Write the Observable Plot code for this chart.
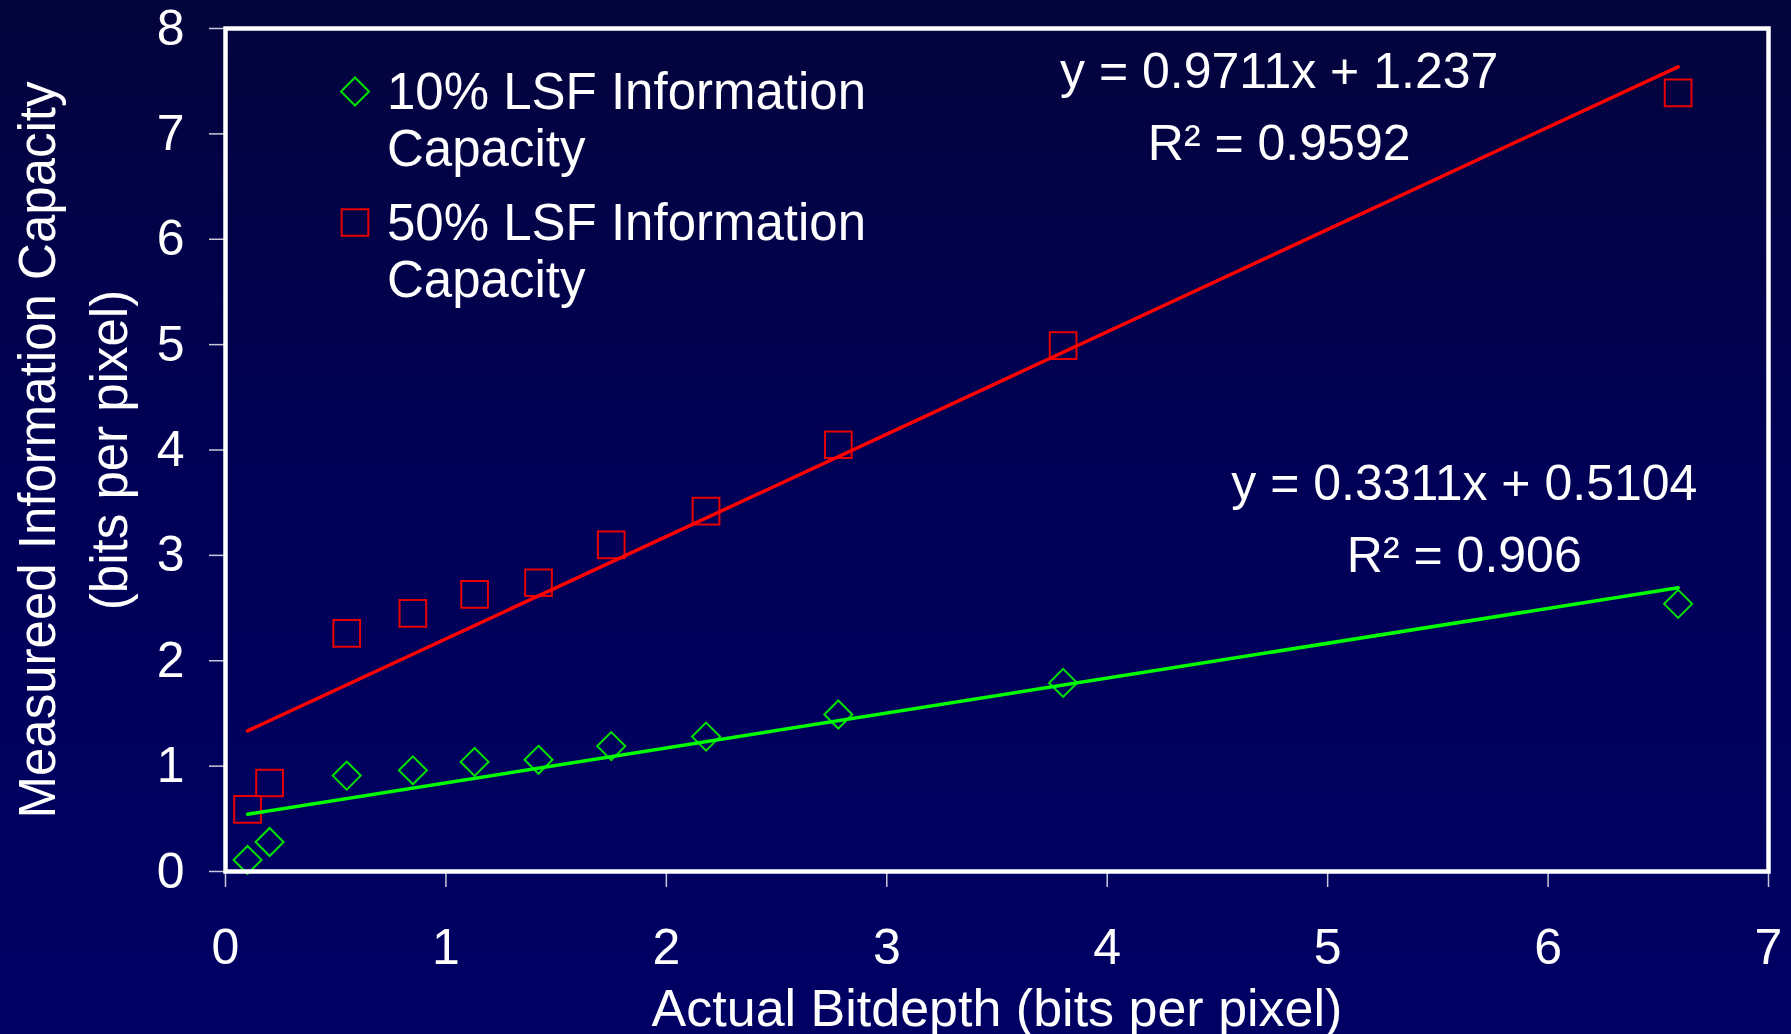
<!DOCTYPE html>
<html>
<head>
<meta charset="utf-8">
<script src="https://cdn.jsdelivr.net/npm/d3@7"></script>
<script src="https://cdn.jsdelivr.net/npm/@observablehq/plot@0.6"></script>
<style>
  html, body { margin: 0; padding: 0; }
  body {
    width: 1791px; height: 1034px; overflow: hidden;
    background: linear-gradient(to bottom, #04043c 0%, #000056 45%, #000064 100%);
    font-family: "Liberation Sans", Arial, sans-serif; color: #fff;
  }
  #wrap { position: relative; width: 1791px; height: 1034px; }
  #chart { position: absolute; left: 0; top: 0; }
  #legend { position: absolute; left: 338px; top: 63px; }
  .entry { display: flex; align-items: flex-start; }
  .entry + .entry { margin-top: 17px; }
  .sym { width: 34px; height: 57px; margin-right: 15px; flex: none; }
  .lbl { font-size: 51px; line-height: 57px; white-space: pre; }
</style>
</head>
<body>
<div id="wrap">
  <div id="chart"></div>
  <div id="legend"></div>
</div>
<script>
// ---- data ----
const bitdepth = [0.10, 0.20, 0.55, 0.85, 1.13, 1.42, 1.75, 2.18, 2.78, 3.80, 6.59];
const lsf10 = [0.11, 0.28, 0.91, 0.96, 1.04, 1.06, 1.19, 1.28, 1.49, 1.79, 2.54];
const lsf50 = [0.59, 0.84, 2.26, 2.45, 2.63, 2.74, 3.10, 3.42, 4.05, 4.99, 7.39];
const seriesNames = ["10% LSF Information\nCapacity", "50% LSF Information\nCapacity"];
const seriesColors = ["#00e400", "#e80000"];
const lineColors = ["#00ff00", "#ff0000"];
const seriesSymbols = ["diamond2", "square2"];
const fitSlopes = [0.3311, 0.9711];
const fitIntercepts = [0.5104, 1.237];
const fitLabels = ["y = 0.3311x + 0.5104\nR\u00B2 = 0.906", "y = 0.9711x + 1.237\nR\u00B2 = 0.9592"];
const fitLabelX = [5.62, 4.78];
const fitLabelY = [2.84, 6.75];
const xTicks = [0, 1, 2, 3, 4, 5, 6, 7];
const yTicks = [0, 1, 2, 3, 4, 5, 6, 7, 8];
const xTitle = "Actual Bitdepth (bits per pixel)";
const yTitleLines = ["Measureed Information Capacity", "(bits per pixel)"];

// ---- derived tables ----
const pts = [lsf10, lsf50].map(ys => bitdepth.map((x, i) => ({x, y: ys[i]})));
const xMin = d3.min(bitdepth), xMax = d3.max(bitdepth);
const fits = fitSlopes.map((m, i) => [xMin, xMax].map(x => ({x, y: m * x + fitIntercepts[i]})));
const symR = [12.6, 17];

const font = "'Liberation Sans', Arial, sans-serif";
const chart = Plot.plot({
  width: 1791,
  height: 1034,
  marginLeft: 225,
  marginRight: 23,
  marginTop: 28,
  marginBottom: 163,
  style: {background: "transparent", color: "#fff", fontFamily: font, fontSize: "50px", overflow: "visible"},
  x: {domain: [0, 7]},
  y: {domain: [0, 8]},
  marks: [
    Plot.axisX({ticks: xTicks, tickSize: 16, tickPadding: 41, stroke: "#c8c8d8", strokeWidth: 1.5, fill: "#fff", label: null, tickFormat: d => String(d)}),
    Plot.axisY({ticks: yTicks, tickSize: 16, tickPadding: 25, stroke: "#c8c8d8", strokeWidth: 1.5, fill: "#fff", label: null, tickFormat: d => String(d)}),
    ...pts.map((p, i) => Plot.dot(p, {x: "x", y: "y", symbol: seriesSymbols[i], r: symR[i], stroke: seriesColors[i], strokeWidth: 2, fill: "none"})),
    ...fits.map((f, i) => Plot.line(f, {x: "x", y: "y", stroke: lineColors[i], strokeWidth: 3.5, strokeLinecap: "round"})),
    Plot.text(fitLabels, {x: (d, i) => fitLabelX[i], y: (d, i) => fitLabelY[i], text: d => d, lineAnchor: "bottom", lineHeight: 1.44, fill: "#fff", textAnchor: "middle"}),
    Plot.frame({stroke: "#ffffff", strokeWidth: 4.5}),
    Plot.text([xTitle], {text: d => d, frameAnchor: "bottom", dy: 154, lineAnchor: "bottom", textAnchor: "middle", fill: "#fff", fontSize: 52}),
    Plot.text([yTitleLines[0]], {text: d => d, frameAnchor: "left", dx: -171, rotate: -90, lineAnchor: "bottom", textAnchor: "middle", fill: "#fff", fontSize: 51}),
    Plot.text([yTitleLines[1]], {text: d => d, frameAnchor: "left", dx: -99, rotate: -90, lineAnchor: "bottom", textAnchor: "middle", fill: "#fff", fontSize: 51})
  ]
});
document.getElementById("chart").appendChild(chart);

// ---- legend ----
const legend = d3.select("#legend");
const d3Symbols = [d3.symbolDiamond2, d3.symbolSquare2];
seriesNames.forEach((name, i) => {
  const e = legend.append("div").attr("class", "entry");
  const svg = e.append("svg").attr("class", "sym").attr("width", 34).attr("height", 57);
  svg.append("path")
    .attr("transform", "translate(17,28.5)")
    .attr("d", d3.symbol(d3Symbols[i], symR[i] * symR[i] * Math.PI)())
    .attr("fill", "none").attr("stroke", seriesColors[i]).attr("stroke-width", 2);
  e.append("div").attr("class", "lbl").text(name);
});
</script>
</body>
</html>
